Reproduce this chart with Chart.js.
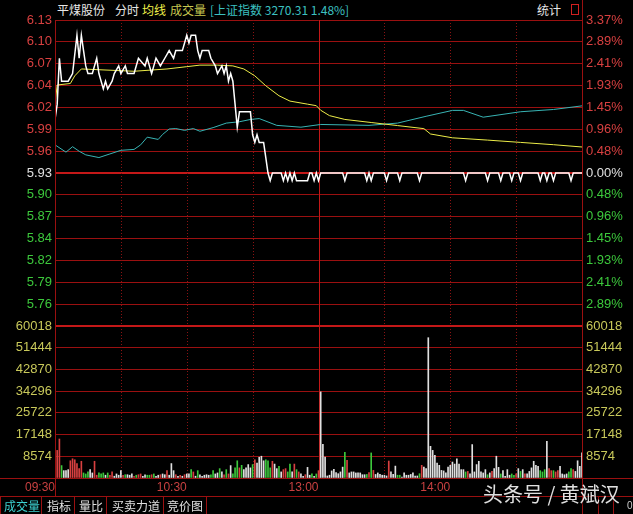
<!DOCTYPE html>
<html lang="zh-CN">
<head>
<meta charset="UTF-8">
<title>平煤股份 分时</title>
<script src="https://cdn.jsdelivr.net/npm/chart.js"></script>
<style>
  body { margin: 0; background: #000; width: 633px; height: 514px; overflow: hidden; position: relative;
         font-family: 'Noto Sans CJK SC', sans-serif; }
  canvas { position: absolute; left: 0; }
  .hdr { position: absolute; top: 2px; font-size: 12px; line-height: 16px; white-space: nowrap; }
  .ln { position: absolute; background: #9a1010; }
  .tab { position: absolute; top: 497px; height: 17px; font-size: 12px; line-height: 17px; color: #e0e0e0; white-space: nowrap; }
  #mark { position: absolute; left: 483px; top: 481px; font-size: 20px; line-height: 26px; color: rgba(255,255,255,0.88);
          text-shadow: 1px 1px 2px #000; white-space: nowrap; }
</style>
</head>
<body>
  <span class="hdr" style="left:57px;color:#e6e6e6">平煤股份</span>
  <span class="hdr" style="left:115px;color:#e6e6e6">分时</span>
  <span class="hdr" style="left:142px;color:#f2f24a">均线</span>
  <span class="hdr" style="left:170px;color:#c8c850">成交量</span>
  <span class="hdr" style="left:210px;color:#3cc0c0">[上证指数 3270.31 1.48%]</span>
  <span class="hdr" style="left:537px;color:#e6e6e6">统计</span>
  <div style="position:absolute;left:571px;top:4px;width:6px;height:9px;border:1px solid #d02020"></div>

  <canvas id="volChart" width="633" height="176" style="top:320px"></canvas>
  <canvas id="priceChart" width="633" height="327" style="top:0"></canvas>

  <!-- frame lines -->
  <div class="ln" style="left:582px;top:0;width:1px;height:514px"></div>
  <div class="ln" style="left:55px;top:20px;width:1px;height:476px"></div>
  <div class="ln" style="left:0;top:478px;width:633px;height:1px"></div>
  <div class="ln" style="left:0;top:496px;width:633px;height:1px"></div>
  <div class="ln" style="left:0;top:496px;width:1px;height:18px"></div>
  <div class="ln" style="left:41px;top:496px;width:1px;height:18px"></div>
  <div class="ln" style="left:74px;top:496px;width:1px;height:18px"></div>
  <div class="ln" style="left:106px;top:496px;width:1px;height:18px"></div>
  <div class="ln" style="left:163px;top:496px;width:1px;height:18px"></div>
  <div class="ln" style="left:206px;top:496px;width:1px;height:18px"></div>
  <div class="ln" style="left:598px;top:496px;width:1px;height:18px"></div>
  <div class="ln" style="left:613px;top:496px;width:1px;height:18px"></div>

  <span class="tab" style="left:4px;color:#3cd0d0">成交量</span>
  <span class="tab" style="left:47px">指标</span>
  <span class="tab" style="left:79px">量比</span>
  <span class="tab" style="left:112px">买卖力道</span>
  <span class="tab" style="left:167px">竞价图</span>
  <span style="position:absolute;left:627px;top:500px;font-size:10px;color:#ccc;font-family:'Liberation Sans'">0</span>
  <div id="mark">头条号 / 黄斌汉</div>

<script>
// 昨收与坐标范围
const preClose = 5.93;
const priceTop = 6.13;
const volTop = 60018;

const priceLabels = ['6.13', '6.10', '6.07', '6.04', '6.02', '5.99', '5.96', '5.93', '5.90', '5.87', '5.84', '5.82', '5.79', '5.76', ''];
const pctLabels = ['3.37%', '2.89%', '2.41%', '1.93%', '1.45%', '0.96%', '0.48%', '0.00%', '0.48%', '0.96%', '1.45%', '1.93%', '2.41%', '2.89%', ''];
const volLabels = ['60018', '51444', '42870', '34296', '25722', '17148', '8574', ''];
const timeLabels = ['09:30', '10:30', '13:00', '14:00'];
const timeTicks = [0, 60, 120, 180];
const gridMinutes = [30, 60, 90, 120, 150, 180, 210];

// 分时价格 (分钟序号, 价格)
const priceMin = [0, 1, 2, 3, 6, 8, 10, 11, 12, 13, 14, 15, 17, 19, 20, 22, 23, 24, 26, 27, 29, 30, 32, 33, 36,
  38, 41, 42, 43, 44, 45, 46, 48, 50, 52, 54, 55, 58, 59, 60, 61, 62, 64, 65, 66, 67, 70, 71, 73, 74, 76, 77, 78,
  79, 80, 81, 82, 83, 84, 89, 90, 91, 92, 93, 95, 96, 97, 98, 99,
  103, 104, 105, 106, 107, 108, 109, 110, 115, 116, 117, 118, 119, 120, 121, 131, 132, 133, 141, 142, 143, 144, 145,
  150, 151, 152, 156, 157, 158, 165, 166, 167, 186, 187, 188, 196, 197, 198, 202, 203, 204, 207, 208, 209,
  211, 212, 213, 220, 221, 222, 223, 224, 225, 226, 227, 228, 234, 235, 236, 240];
const priceVal = [6.00, 6.02, 6.08, 6.05, 6.05, 6.06, 6.11, 6.08, 6.11, 6.09, 6.07, 6.06, 6.06, 6.08, 6.06, 6.04, 6.05, 6.04, 6.05, 6.06, 6.07, 6.06, 6.07, 6.06, 6.06,
  6.08, 6.07, 6.08, 6.07, 6.06, 6.07, 6.08, 6.07, 6.08, 6.09, 6.08, 6.09, 6.09, 6.10, 6.11, 6.10, 6.11, 6.11, 6.09, 6.08, 6.09, 6.09, 6.08, 6.07, 6.06, 6.07, 6.06, 6.07,
  6.05, 6.06, 6.05, 6.02, 5.99, 6.01, 6.01, 5.98, 5.97, 5.98, 5.97, 5.97, 5.95, 5.93, 5.92, 5.93,
  5.93, 5.92, 5.93, 5.92, 5.93, 5.92, 5.93, 5.92, 5.92, 5.93, 5.93, 5.92, 5.93, 5.92, 5.93, 5.93, 5.92, 5.93, 5.93, 5.92, 5.93, 5.92, 5.93,
  5.93, 5.92, 5.93, 5.93, 5.92, 5.93, 5.93, 5.92, 5.93, 5.93, 5.92, 5.93, 5.93, 5.92, 5.93, 5.93, 5.92, 5.93, 5.93, 5.92, 5.93,
  5.93, 5.92, 5.93, 5.93, 5.92, 5.93, 5.93, 5.92, 5.93, 5.93, 5.92, 5.93, 5.93, 5.92, 5.93, 5.93];

// 均价线
const avgMin = [0, 1, 7, 9, 12, 20, 36, 51, 60, 66, 74, 81, 86, 91, 96, 102, 107, 115, 119, 121, 125, 132, 144, 156, 168, 171, 181, 197, 212, 227, 240];
const avgVal = [6.020, 6.045, 6.047, 6.057, 6.066, 6.065, 6.063, 6.066, 6.069, 6.071, 6.071, 6.070, 6.066, 6.057, 6.044, 6.031,
  6.024, 6.020, 6.018, 6.012, 6.005, 6.000, 5.996, 5.992, 5.988, 5.981, 5.976, 5.973, 5.970, 5.967, 5.964];

// 上证指数涨跌幅 (%)
const idxMin = [0, 5, 8, 11, 14, 20, 25, 30, 36, 39, 42, 47, 49, 52, 55, 59, 63, 66, 72, 78, 84, 89, 93, 101, 112, 121,
  143, 156, 169, 181, 186, 195, 212, 227, 240];
const idxPct = [0.62, 0.46, 0.58, 0.48, 0.40, 0.34, 0.42, 0.50, 0.52, 0.62, 0.79, 0.74, 0.85, 0.97, 0.98, 0.94, 0.98, 0.92,
  1.00, 1.10, 1.13, 1.18, 1.20, 1.05, 1.01, 1.07, 1.05, 1.10, 1.25, 1.38, 1.38, 1.23, 1.35, 1.40, 1.48];

// 每分钟成交量
const volumes = [
  0, 10900, 15400, 4900, 2900, 2900, 3300, 6800, 7600, 7200,
  5700, 3700, 6600, 2000, 1600, 2400, 3300, 2000, 6600, 1100,
  2000, 1600, 2000, 1100, 2000, 1100, 2400, 700, 1600, 1100,
  2900, 1100, 1300, 1300, 1100, 1600, 700, 1100, 1300, 1600,
  700, 1300, 1100, 1100, 1300, 1600, 700, 1100, 1300, 1600,
  1300, 2900, 1100, 5700, 2900, 1300, 700, 1100, 700, 1300,
  1600, 1600, 3300, 2400, 700, 2900, 1300, 700, 1100, 1300,
  1100, 1300, 2900, 1600, 2000, 3700, 2400, 1300, 3300, 1600,
  4900, 1600, 4000, 6800, 4000, 5000, 3300, 4000, 5300, 4000,
  5300, 7200, 5900, 8200, 8600, 6800, 7200, 6800, 4000, 6600,
  5500, 3700, 4600, 2400, 3300, 3700, 2400, 5500, 2400, 5500,
  3300, 2400, 1600, 700, 1300, 4200, 1100, 1600, 700, 1600,
  2900, 34000, 13300, 8300, 800, 1100, 2800, 3400, 2100, 1700,
  2400, 4300, 10100, 7000, 2000, 2400, 2400, 2000, 2000, 2000,
  1300, 1300, 1400, 2100, 9900, 3000, 1400, 2000, 1400, 1100,
  1100, 800, 6700, 2400, 1400, 4700, 1100, 1100, 400, 2000,
  1100, 1100, 1400, 2000, 800, 800, 1700, 5000, 4300, 3700,
  55400, 12500, 10900, 9000, 5900, 5000, 3000, 2800, 2000, 4300,
  5000, 6300, 5500, 7600, 5500, 3300, 3300, 2400, 2600, 1600,
  13200, 2400, 5300, 6600, 2400, 2000, 3300, 1300, 2000, 2600,
  3700, 8600, 4200, 1600, 2900, 700, 3300, 1100, 1600, 1100,
  1600, 3700, 2600, 3300, 1600, 1600, 2600, 4000, 6600, 5000,
  4600, 2900, 2400, 3300, 14500, 3700, 2900, 2900, 2400, 2900,
  4600, 1600, 1300, 1600, 2400, 3700, 3300, 2600, 6800, 4600,
  9900];
// 成交量方向: r 外盘(涨) g 内盘(跌) w 平
const volDir = 'wrrgwwwrrr' + 'rrrgggwwrr' + 'gggwgrrwww' + 'wrgwwwrgrr' + 'wwggrgwwrw' + 'wrwwwrwrwr' +
  'wwgrwgwwww' + 'wggwwgwrgr' + 'wgggrgwwww' + 'grwwwwgggr' + 'wwgwrrggwr' + 'grwwrwwgwg' +
  'rwwwwwwwww' + 'wwgrwwwwww' + 'wwgrgrwwww' + 'wwrwwwggww' + 'wwwwwwgrww' + 'wwwwwwwwww' +
  'wwwwwwwgrw' + 'wwwwwwwgwr' + 'wwwgwwwwgg' + 'rwgwrwwwww' + 'wgggwrrgrr' + 'wwwwggrwww' + 'w';

const RED = '#d84040', GREEN = '#3cc83c', WHITE = '#e0e0e0';
const GRID = '#9a1010', GRID_HEAVY = '#c41818';
const dirColor = { r: RED, g: GREEN, w: WHITE };
const tickFont = { family: 'Liberation Sans', size: 13 };

const priceBottom = 2 * preClose - priceTop;
const pctTop = (priceTop - preClose) / preClose * 100;
const priceStep = (priceTop - priceBottom) / 14;
const pctStep = 2 * pctTop / 14;

function setTicks(values) {
  return function (scale) { scale.ticks = values.map(v => ({ value: v })); };
}
// fixed axis width, no extra room reserved for the end labels
function fitAxis(w) {
  return function (s) { s.width = w; s.paddingTop = 0; s.paddingBottom = 0; };
}
function upDownColor(ctx) {
  return ctx.index < 7 ? RED : (ctx.index === 7 ? WHITE : GREEN);
}

// 竖向时间分隔线
const timeLines = {
  id: 'timeLines',
  beforeDatasetsDraw(chart) {
    const { ctx, chartArea: a, scales: { x } } = chart;
    ctx.save();
    ctx.lineWidth = 1;
    gridMinutes.forEach(m => {
      const px = Math.round(x.getPixelForValue(m)) + 0.5;
      ctx.strokeStyle = m === 120 ? GRID_HEAVY : '#8a1212';
      ctx.setLineDash(m === 120 ? [] : [1, 2]);
      ctx.beginPath();
      ctx.moveTo(px, a.top);
      ctx.lineTo(px, a.bottom);
      ctx.stroke();
    });
    ctx.restore();
  }
};

const common = {
  responsive: false,
  animation: false,
  events: [],
  plugins: { legend: { display: false }, tooltip: { enabled: false } }
};

new Chart(document.getElementById('priceChart'), {
  type: 'line',
  data: {
    datasets: [
      { data: priceMin.map((m, i) => ({ x: m, y: priceVal[i] })), borderColor: '#ffffff', borderWidth: 1.5,
        pointRadius: 0, tension: 0, yAxisID: 'y', order: 0 },
      { data: avgMin.map((m, i) => ({ x: m, y: avgVal[i] })), borderColor: '#ecec48', borderWidth: 1,
        pointRadius: 0, tension: 0, yAxisID: 'y', order: 1 },
      { data: idxMin.map((m, i) => ({ x: m, y: idxPct[i] })), borderColor: '#38b4b4', borderWidth: 1,
        pointRadius: 0, tension: 0, yAxisID: 'yp', order: 2 }
    ]
  },
  options: {
    ...common,
    layout: { padding: { top: 20, bottom: 1, left: 0, right: 0 } },
    scales: {
      x: { type: 'linear', min: 0, max: 240, display: false, offset: false },
      y: {
        position: 'left', min: priceBottom, max: priceTop,
        afterBuildTicks: setTicks(priceLabels.map((_, j) => priceTop - j * priceStep)),
        afterFit: fitAxis(55),
        border: { display: false },
        grid: { drawTicks: false, color: c => (c.index === 7 || c.index === 14) ? GRID_HEAVY : GRID,
                lineWidth: c => (c.index === 7 || c.index === 14) ? 2 : 1 },
        ticks: { autoSkip: false, padding: 3, font: tickFont, color: upDownColor,
                 callback: (v, i) => priceLabels[i] }
      },
      yp: {
        position: 'right', min: -pctTop, max: pctTop,
        afterBuildTicks: setTicks(pctLabels.map((_, j) => pctTop - j * pctStep)),
        afterFit: fitAxis(51),
        border: { display: false },
        grid: { display: false, drawTicks: false },
        ticks: { autoSkip: false, padding: 4, font: tickFont, color: upDownColor,
                 callback: (v, i) => pctLabels[i] }
      }
    }
  },
  plugins: [timeLines]
});

const volTicks = volLabels.map((_, j) => volTop - j * (volTop / 7));
const volAxis = (pos, w) => ({
  position: pos, min: 0, max: volTop,
  afterBuildTicks: setTicks(volTicks),
  afterFit: fitAxis(w),
  border: { display: false },
  grid: { display: pos === 'left', drawTicks: false, color: c => c.index === 0 ? GRID_HEAVY : GRID,
          lineWidth: c => c.index === 0 ? 2 : 1 },
  ticks: { autoSkip: false, padding: pos === 'left' ? 3 : 4, font: tickFont, color: '#c8c85a',
           callback: (v, i) => volLabels[i] }
});

new Chart(document.getElementById('volChart'), {
  type: 'bar',
  data: {
    datasets: [{
      data: volumes.map((v, i) => ({ x: i, y: v })),
      backgroundColor: volumes.map((v, i) => dirColor[volDir[i]]),
      barThickness: 1,
      yAxisID: 'yv'
    }]
  },
  options: {
    ...common,
    layout: { padding: { top: 6, bottom: 0, left: 0, right: 0 } },
    scales: {
      x: {
        type: 'linear', min: 0, max: 240, position: 'bottom', offset: false,
        afterBuildTicks: setTicks(timeTicks),
        afterFit(s) { s.height = 18; s.paddingLeft = 0; s.paddingRight = 0; },
        border: { display: false },
        grid: { display: false, drawTicks: false, offset: false },
        ticks: { autoSkip: false, maxRotation: 0, align: 'end', padding: 2, color: '#c84040',
                 font: { family: 'Liberation Sans', size: 12 }, callback: (v, i) => timeLabels[i] }
      },
      yv: volAxis('left', 55),
      yvr: volAxis('right', 51)
    }
  },
  plugins: [timeLines]
});
</script>
</body>
</html>
